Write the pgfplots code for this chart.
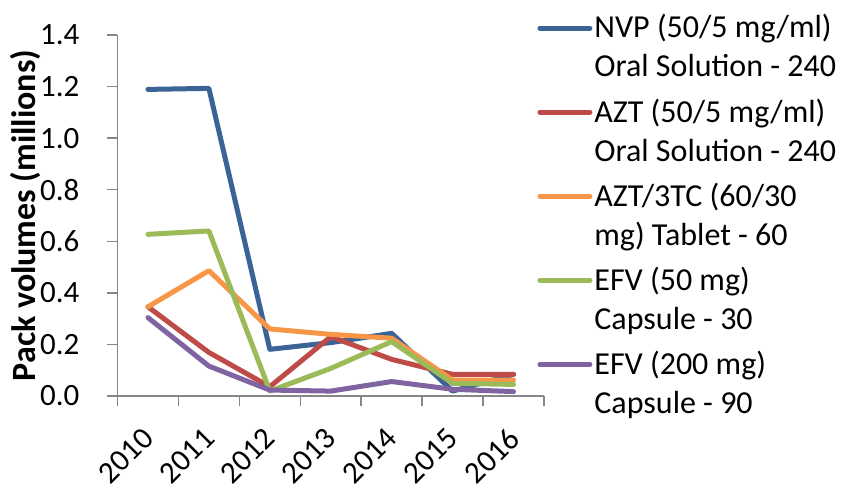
\documentclass[border=0pt]{standalone}
\usepackage{fontspec}
\setmainfont{Carlito}
\usepackage{pgfplots}
\pgfplotsset{compat=1.18}
\definecolor{cNVP}{HTML}{3C6395}
\definecolor{cAZT}{HTML}{BE4B48}
\definecolor{cAZ3}{HTML}{F79646}
\definecolor{cEFa}{HTML}{9BBB59}
\definecolor{cEFb}{HTML}{8064A2}
\definecolor{axgray}{HTML}{868686}
\begin{document}
\fontsize{16pt}{19.5pt}\selectfont
\begin{tikzpicture}
\begin{axis}[name=ax,
  width=213.25pt, height=180.5pt, scale only axis,
  xmin=-0.5, xmax=6.5, ymin=0, ymax=1.4,
  axis x line=bottom, axis y line=left,
  axis line style={draw=axgray, line width=0.75pt, -},
  tick style={draw=axgray, line width=0.75pt},
  tick align=outside,
  major tick length=5pt,
  tick label style={font=\fontsize{15.5pt}{18pt}\selectfont},
  xtick={-0.5,0.5,1.5,2.5,3.5,4.5,5.5,6.5}, xticklabels={},
  extra x ticks={0,1,2,3,4,5,6},
  extra x tick labels={2010,2011,2012,2013,2014,2015,2016},
  extra x tick style={major tick length=0pt, tick style={draw=none},
     xticklabel style={xshift=-3.5pt, yshift=-13.5pt, rotate=45, anchor=north east, inner sep=1pt}},
  ytick={0,0.2,0.4,0.6,0.8,1.0,1.2,1.4},
  yticklabel style={xshift=-8.5pt, /pgf/number format/.cd, fixed, fixed zerofill, precision=1, assume math mode=true},
  ylabel={Pack volumes (millions)},
  every axis y label/.style={at={(rel axis cs:-0.2169,0.5)}, rotate=90, anchor=center,
     font=\fontsize{17pt}{20pt}\selectfont\bfseries},
  legend style={draw=none, fill=none, at={(rel axis cs:0.9836,1.069)}, anchor=north west,
     inner sep=0pt, row sep=4.45pt, cells={align=left, anchor=west},
     /tikz/every even column/.style={column sep=0pt}},
  legend cell align=left,
  legend image code/.code={\draw[#1, overlay] (1.25pt,10pt) -- (26.25pt,10pt); \path[draw=none, fill=none] (0pt,0pt) -- (26.5pt,0pt);},
  every axis plot/.append style={line width=2.5pt, line cap=round, line join=round, no markers},
]
\addplot[cNVP] coordinates {(0,1.189) (1,1.193) (2,0.181) (3,0.207) (4,0.243) (5,0.019) (6,0.084)};
\addlegendentry{NVP (50/5 mg/ml)\\Oral Solution - 240}
\addplot[cAZT] coordinates {(0,0.346) (1,0.169) (2,0.036) (3,0.230) (4,0.142) (5,0.084) (6,0.084)};
\addlegendentry{AZT (50/5 mg/ml)\\Oral Solution - 240}
\addplot[cAZ3] coordinates {(0,0.346) (1,0.486) (2,0.260) (3,0.239) (4,0.224) (5,0.062) (6,0.062)};
\addlegendentry{AZT/3TC (60/30\\mg) Tablet - 60}
\addplot[cEFa] coordinates {(0,0.627) (1,0.640) (2,0.019) (3,0.107) (4,0.211) (5,0.049) (6,0.045)};
\addlegendentry{EFV (50 mg)\\Capsule - 30}
\addplot[cEFb] coordinates {(0,0.304) (1,0.116) (2,0.023) (3,0.019) (4,0.056) (5,0.026) (6,0.017)};
\addlegendentry{EFV (200 mg)\\Capsule - 90}
\end{axis}
\pgfresetboundingbox
\path[use as bounding box] ([xshift=-58.75pt,yshift=-47.5pt]ax.south west) rectangle ([xshift=363.75pt,yshift=198pt]ax.south west);
\end{tikzpicture}
\end{document}
